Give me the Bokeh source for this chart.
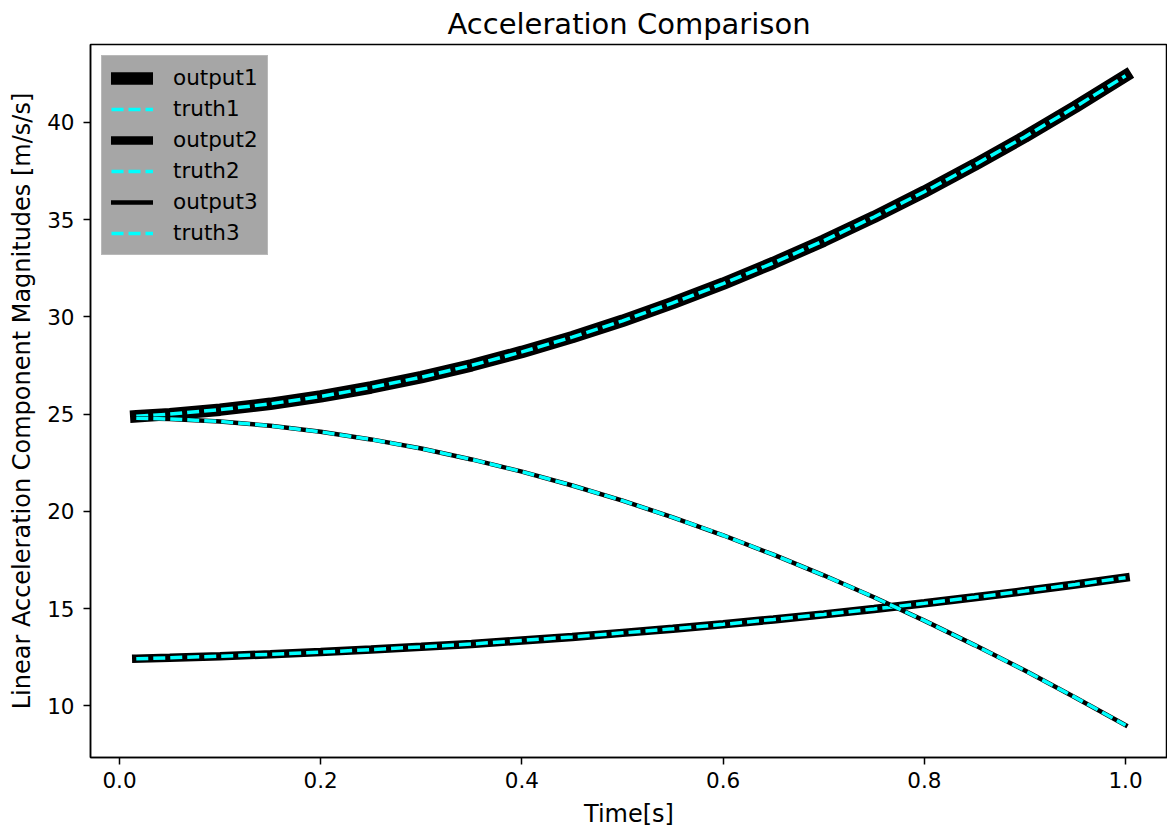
from bokeh.plotting import figure
from bokeh.models import Range1d, FixedTicker, PrintfTickFormatter
from bokeh.embed import file_html
from bokeh.resources import INLINE

# Sample times [s]
time_s = [0.0167, 0.05, 0.10, 0.15, 0.20, 0.25, 0.30, 0.35, 0.40, 0.45, 0.50,
          0.55, 0.60, 0.65, 0.70, 0.75, 0.80, 0.85, 0.90, 0.95, 1.00]

# Reference (truth) acceleration magnitudes [m/s/s]
truth1 = [24.89, 25.00, 25.23, 25.53, 25.91, 26.37, 26.90, 27.51, 28.20, 28.96, 29.80,
          30.72, 31.71, 32.78, 33.92, 35.14, 36.44, 37.82, 39.27, 40.80, 42.40]
truth2 = [12.42, 12.47, 12.55, 12.65, 12.76, 12.89, 13.03, 13.18, 13.36, 13.54, 13.75,
          13.96, 14.19, 14.44, 14.70, 14.98, 15.27, 15.58, 15.90, 16.24, 16.59]
truth3 = [24.79, 24.75, 24.62, 24.40, 24.09, 23.70, 23.23, 22.67, 22.04, 21.33, 20.55,
          19.69, 18.77, 17.77, 16.71, 15.58, 14.38, 13.12, 11.81, 10.43, 9.00]

# Estimated outputs coincide with the truth values
output1 = list(truth1)
output2 = list(truth2)
output3 = list(truth3)

x_ticks = [0.0, 0.2, 0.4, 0.6, 0.8, 1.0]
y_ticks = [10, 15, 20, 25, 30, 35, 40]

FONT = "DejaVu Sans"
CYAN = "#00ffff"

p = figure(width=1167, height=832, output_backend="svg", toolbar_location=None,
           x_range=Range1d(-0.0288, 1.0417), y_range=Range1d(7.34, 44.01),
           min_border_left=90, min_border_right=0, min_border_top=43,
           min_border_bottom=75, title="Acceleration Comparison")

p.title.align = "center"
p.title.text_font = FONT
p.title.text_font_size = "29px"
p.title.text_font_style = "normal"
p.title.text_color = "black"
p.title.text_line_height = 0.85
p.title.standoff = 8

p.xgrid.grid_line_color = None
p.ygrid.grid_line_color = None
p.outline_line_color = "black"
p.outline_line_width = 1.5
p.outline_line_alpha = 1.0

p.xaxis.ticker = FixedTicker(ticks=x_ticks)
p.xaxis.formatter = PrintfTickFormatter(format="%.1f")
p.yaxis.ticker = FixedTicker(ticks=y_ticks)
p.xaxis.axis_label = "Time[s]"
p.yaxis.axis_label = "Linear Acceleration Component Magnitudes [m/s/s]"

for ax in (p.xaxis, p.yaxis):
    ax.axis_line_color = "black"
    ax.axis_line_width = 1.5
    ax.major_tick_line_color = "black"
    ax.major_tick_line_width = 1.5
    ax.major_tick_in = 0
    ax.major_tick_out = 7
    ax.minor_tick_line_color = None
    ax.major_label_text_font = FONT
    ax.major_label_text_font_size = "21.5px"
    ax.major_label_text_color = "black"
    ax.axis_label_text_font = FONT
    ax.axis_label_text_font_size = "24px"
    ax.axis_label_text_font_style = "normal"
    ax.axis_label_text_color = "black"

p.xaxis.major_label_standoff = 7
p.yaxis.major_label_standoff = 9
p.xaxis.axis_label_standoff = 9
p.yaxis.axis_label_standoff = 8

DASH = "12 5"

p.line(time_s, output1, line_color="black", line_width=12.5, line_cap="square",
       legend_label="output1")
p.line(time_s, truth1, line_color=CYAN, line_width=3.5, line_dash=DASH,
       legend_label="truth1")
p.line(time_s, output2, line_color="black", line_width=8.5, line_cap="square",
       legend_label="output2")
p.line(time_s, truth2, line_color=CYAN, line_width=3.5, line_dash=DASH,
       legend_label="truth2")
p.line(time_s, output3, line_color="black", line_width=4.5, line_cap="square",
       legend_label="output3")
p.line(time_s, truth3, line_color=CYAN, line_width=3.5, line_dash=DASH,
       legend_label="truth3")

lg = p.legend[0]
lg.location = "top_left"
lg.margin = 11
lg.padding = 9
lg.spacing = 6
lg.glyph_width = 42
lg.glyph_height = 20
lg.label_height = 20
lg.label_standoff = 20
lg.label_text_font = FONT
lg.label_text_font_size = "21.5px"
lg.label_text_color = "black"
lg.background_fill_color = "#a6a6a6"
lg.background_fill_alpha = 1.0
lg.border_line_color = "#cccccc"
lg.border_line_width = 1.5

open("out.html", "w").write(file_html(p, INLINE))
